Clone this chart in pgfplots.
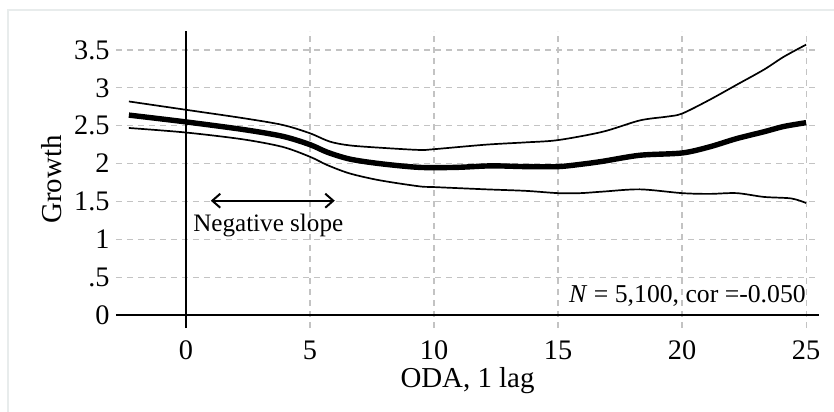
\documentclass[border=0pt]{standalone}
\usepackage{fontspec}
\setmainfont{Liberation Serif}
\usepackage{pgfplots}
\pgfplotsset{compat=1.18}
\usetikzlibrary{arrows.meta}
\definecolor{gridgray}{RGB}{195,195,195}
\definecolor{framegray}{RGB}{232,236,236}
\begin{document}
\begin{tikzpicture}
\path[use as bounding box] (-58bp,-42bp) rectangle (359bp,164bp);
\draw[framegray, line width=0.8bp] (-54bp,-60bp) -- (-54bp,159bp) -- (380bp,159bp);
\begin{axis}[
  at={(0,0)}, anchor=south west,
  scale only axis,
  width=351.5bp, height=148.5bp,
  xmin=-2.82, xmax=25.52,
  ymin=-0.17, ymax=3.75,
  axis line style={draw=none},
  major tick style={draw=none},
  xtick={0,5,10,15,20,25},
  ytick={0,0.5,1,1.5,2,2.5,3,3.5},
  yticklabels={0,.5,1,1.5,2,2.5,3,3.5},
  grid=major,
  major grid style={gridgray, dash pattern=on 3bp off 2.5bp, line width=0.6bp},
  /pgf/number format/assume math mode=true,
  tick label style={font=\fontsize{14.2}{16}\selectfont},
  xticklabel style={anchor=base, yshift=-15.5bp},
  yticklabel style={anchor=east, inner sep=0pt, xshift=-3bp},
  xlabel={ODA, 1 lag},
  ylabel={Growth},
  every axis x label/.style={at={(axis description cs:0.5,0)}, anchor=base, inner sep=0pt, yshift=-29.5bp, font=\fontsize{14.5}{16}\selectfont},
  every axis y label/.style={at={(axis description cs:-0.092,0.5)}, anchor=center, rotate=90, font=\fontsize{14.5}{16}\selectfont},
  clip=false,
]
% reference lines
\addplot[black, line width=1.3bp] coordinates {(0,-0.17) (0,3.75)};
\addplot[black, line width=1.3bp] coordinates {(-2.82,0) (25.52,0)};
% upper band
\addplot[black, line width=0.85bp, smooth] coordinates {
(-2.3,2.82) (0,2.71) (2.3,2.60) (3.9,2.51) (5.0,2.40) (5.8,2.29) (6.6,2.24)
(7.8,2.21) (9.4,2.18) (10.0,2.19) (12.1,2.25) (13.7,2.28) (15.0,2.31)
(16.8,2.42) (18.3,2.57) (19.4,2.62) (20.0,2.66) (21.1,2.84) (22.2,3.04)
(23.3,3.24) (24.1,3.41) (25.0,3.57)};
% mean
\addplot[black, line width=2.7bp, smooth] coordinates {
(-2.3,2.64) (0,2.55) (2.3,2.45) (3.9,2.36) (5.0,2.25) (5.7,2.15) (6.6,2.06)
(7.8,2.00) (9.4,1.95) (10.9,1.95) (12.3,1.97) (13.7,1.96) (15.0,1.96)
(15.9,1.99) (16.8,2.03) (18.3,2.11) (20.0,2.14) (21.1,2.22) (22.2,2.33)
(23.3,2.42) (24.1,2.49) (25.0,2.54)};
% lower band
\addplot[black, line width=0.85bp, smooth] coordinates {
(-2.3,2.47) (0,2.41) (2.3,2.32) (3.9,2.22) (5.0,2.09) (5.7,1.98) (6.6,1.87)
(7.8,1.78) (9.4,1.70) (10.0,1.69) (12.1,1.66) (13.7,1.64) (15.0,1.61)
(15.9,1.61) (16.8,1.63) (18.3,1.66) (20.0,1.61) (21.1,1.60) (22.2,1.61)
(23.3,1.56) (24.4,1.54) (25.0,1.48)};
% annotations
\draw[{Straight Barb[length=4bp,width=7bp]}-{Straight Barb[length=4bp,width=7bp]}, line width=1bp]
  (axis cs:1.0,1.51) -- (axis cs:6.0,1.51);
\node[anchor=base west, inner sep=0pt, font=\fontsize{12.6}{14}\selectfont] at (axis cs:0.28,1.10) {Negative slope};
\node[anchor=base east, inner sep=0pt, font=\fontsize{12.9}{14}\selectfont] at (axis cs:25.0,0.17) {\textit{N} = 5,100, cor =-0.050};
\end{axis}
\end{tikzpicture}
\end{document}
